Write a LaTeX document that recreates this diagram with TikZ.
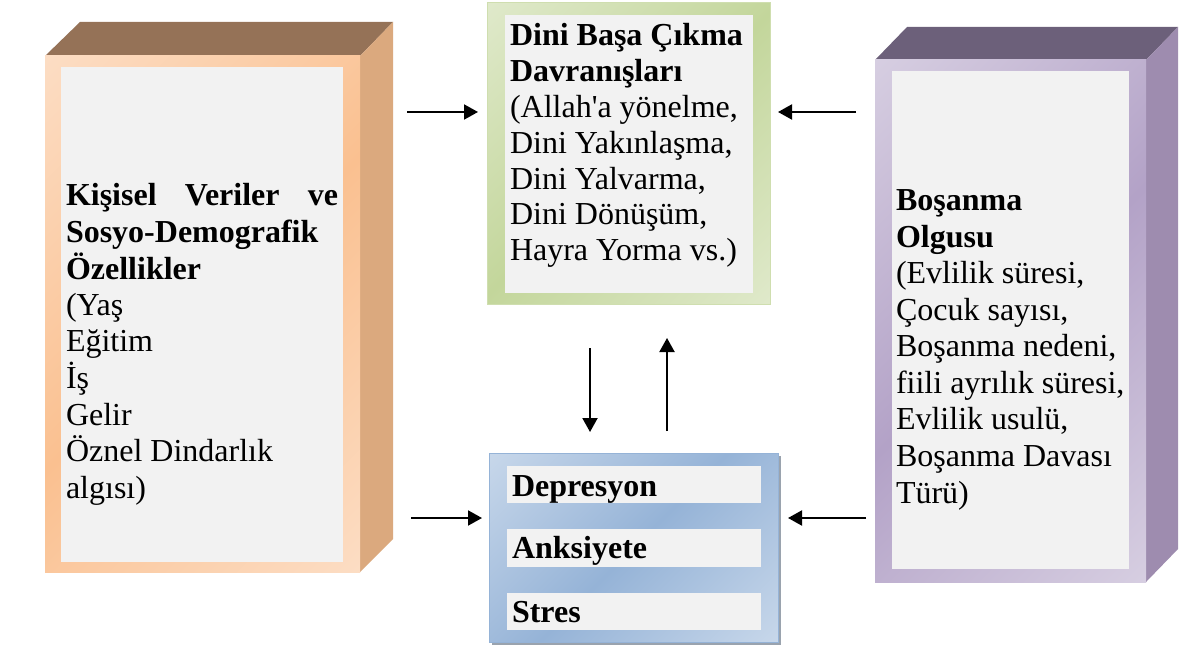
\documentclass[tikz,border=0pt]{standalone}
\usepackage{fontspec}
\setmainfont{Liberation Serif}
\usetikzlibrary{arrows.meta}
\definecolor{pL}{HTML}{FDE9D9}
\definecolor{pD}{HTML}{FAC090}
\definecolor{pTop}{HTML}{957257}
\definecolor{pSide}{HTML}{DBA97E}
\definecolor{vL}{HTML}{E5E0EC}
\definecolor{vD}{HTML}{B3A2C7}
\definecolor{vTop}{HTML}{6C607A}
\definecolor{vSide}{HTML}{9E8CAF}
\definecolor{gL}{HTML}{EBF1DE}
\definecolor{gD}{HTML}{C3D69B}
\definecolor{bL}{HTML}{DCE6F2}
\definecolor{bD}{HTML}{95B3D7}
\definecolor{inF}{HTML}{F2F2F2}
\definecolor{shd}{HTML}{9AA3AE}
\pgfdeclarehorizontalshading{peachsh}{100bp}{color(0bp)=(pL); color(50bp)=(pD); color(100bp)=(pL)}
\pgfdeclarehorizontalshading{violetsh}{100bp}{color(0bp)=(vL); color(50bp)=(vD); color(100bp)=(vL)}
\pgfdeclarehorizontalshading{greensh}{100bp}{color(0bp)=(gL); color(50bp)=(gD); color(100bp)=(gL)}
\pgfdeclarehorizontalshading{bluesh}{100bp}{color(0bp)=(bL); color(50bp)=(bD); color(100bp)=(bL)}
\tikzset{
  txt/.style={anchor=base west, inner sep=0pt, outer sep=0pt},
  fsa/.style={font=\fontsize{16}{18.25}\selectfont},
  fsb/.style={font=\fontsize{16}{17.9}\selectfont},
  innerbox/.style={fill=inF},
  arr/.style={line width=1pt, -{Triangle[length=7pt,width=7.5pt]}}
}
\begin{document}
\begin{tikzpicture}[x=0.5pt,y=-0.5pt]
\useasboundingbox (0,0) rectangle (1181,646);
% ---------- left 3D box ----------
\fill[pTop] (45,56) -- (80,22) -- (393,22) -- (360,56) -- cycle;
\fill[pSide] (360,56) -- (393,22) -- (393,539) -- (360,572) -- cycle;
\shade[shading=peachsh, shading angle=-45] (45,56) rectangle (360,572);
\fill[innerbox] (61,67) rectangle (343,562);
\node[txt, fsa] (left) at (66,206) {\vtop{%
  \hbox to 136pt{\bfseries Kişisel\hfill Veriler\hfill ve}%
  \hbox{\bfseries Sosyo-Demografik}%
  \hbox{\bfseries Özellikler}%
  \hbox{(Yaş}%
  \hbox{Eğitim}%
  \hbox{İş}%
  \hbox{Gelir}%
  \hbox{Öznel Dindarlık}%
  \hbox{algısı)}}};
% ---------- right 3D box ----------
\fill[vTop] (875,60) -- (907,27) -- (1178,27) -- (1146,60) -- cycle;
\fill[vSide] (1146,60) -- (1178,27) -- (1178,549) -- (1146,582) -- cycle;
\shade[shading=violetsh, shading angle=-45] (875,60) rectangle (1146,582);
\fill[innerbox] (892,71) rectangle (1129,569);
\node[txt, fsa] (right) at (896,211) {\vtop{%
  \hbox{\bfseries Boşanma}%
  \hbox{\bfseries Olgusu}%
  \hbox{(Evlilik süresi,}%
  \hbox{Çocuk sayısı,}%
  \hbox{Boşanma nedeni,}%
  \hbox{fiili ayrılık süresi,}%
  \hbox{Evlilik usulü,}%
  \hbox{Boşanma Davası}%
  \hbox{Türü)}}};
% ---------- top middle box ----------
\shadedraw[shading=greensh, shading angle=-45, draw=gD!80, line width=0.5pt] (487,3) rectangle (770,305);
\fill[innerbox] (505,15) rectangle (753,293);
\node[txt, fsb] (top) at (510,46) {\vtop{%
  \hbox{\bfseries Dini Başa Çıkma}%
  \hbox{\bfseries Davranışları}%
  \hbox{(Allah\textquotesingle a yönelme,}%
  \hbox{Dini Yakınlaşma,}%
  \hbox{Dini Yalvarma,}%
  \hbox{Dini Dönüşüm,}%
  \hbox{Hayra Yorma vs.)}}};
% ---------- bottom middle box ----------
\fill[shd] (492,456) rectangle (781,645);
\shadedraw[shading=bluesh, shading angle=-45, draw=bD, line width=0.5pt] (489,453) rectangle (778,642);
\fill[innerbox] (507,466) rectangle (761,503);
\fill[innerbox] (507,529) rectangle (761,567);
\fill[innerbox] (507,593) rectangle (761,630);
\node[txt, fsa] (dep) at (512,496) {\bfseries Depresyon};
\node[txt, fsa] (anx) at (512,558) {\bfseries Anksiyete};
\node[txt, fsa] (str) at (512,622) {\bfseries Stres};
% ---------- arrows ----------
\coordinate (a1s) at (407,112); \coordinate (a1e) at (478,112);
\coordinate (a2s) at (856,112); \coordinate (a2e) at (778,112);
\coordinate (a3s) at (411,518); \coordinate (a3e) at (482,518);
\coordinate (a4s) at (866,518); \coordinate (a4e) at (788,518);
\coordinate (a5s) at (590,348); \coordinate (a5e) at (590,432);
\coordinate (a6s) at (667,431); \coordinate (a6e) at (667,338);
\draw[arr] (a1s) -- (a1e);
\draw[arr] (a2s) -- (a2e);
\draw[arr] (a3s) -- (a3e);
\draw[arr] (a4s) -- (a4e);
\draw[arr] (a5s) -- (a5e);
\draw[arr] (a6s) -- (a6e);
\end{tikzpicture}
\end{document}
